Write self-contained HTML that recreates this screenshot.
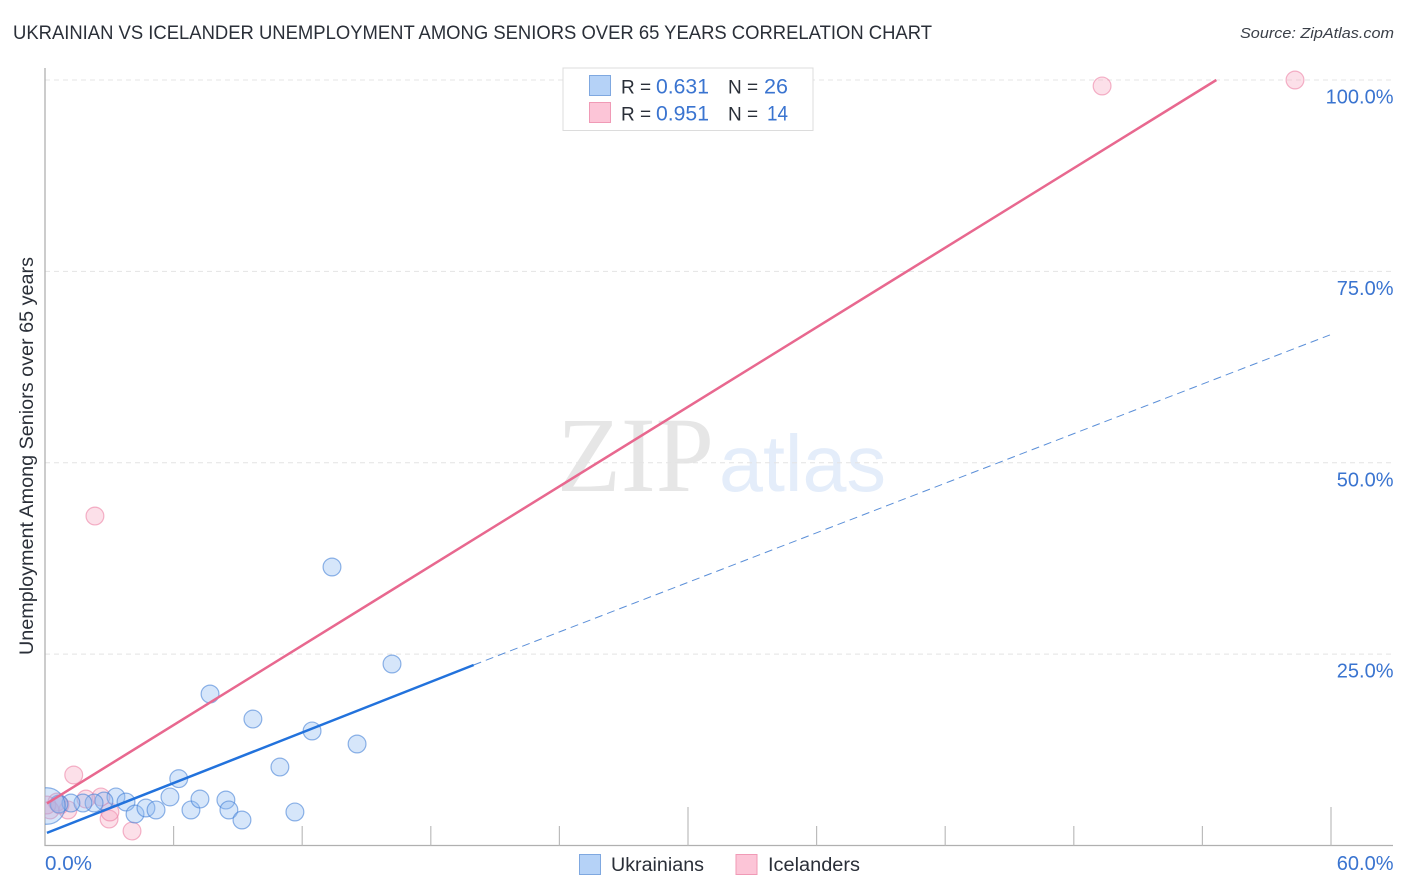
<!DOCTYPE html>
<html lang="en">
<head>
<meta charset="utf-8">
<title>Ukrainian vs Icelander Unemployment Among Seniors over 65 Years Correlation Chart</title>
<style>
html,body{margin:0;padding:0;background:#fff;width:1406px;height:892px;overflow:hidden}
svg{display:block;font-family:"Liberation Sans",sans-serif}
</style>
</head>
<body>
<svg id="chart" xmlns="http://www.w3.org/2000/svg" width="1406" height="892" viewBox="0 0 1406 892">
  <defs><clipPath id="plot-clip"><rect x="45" y="60" width="1348" height="785.5"/></clipPath></defs>
  <rect width="1406" height="892" fill="#fff"/>
  <text x="13" y="39" font-size="19" fill="#2a2f38" textLength="919" lengthAdjust="spacingAndGlyphs">UKRAINIAN VS ICELANDER UNEMPLOYMENT AMONG SENIORS OVER 65 YEARS CORRELATION CHART</text>
  <text x="1394" y="38" font-size="15" font-style="italic" fill="#3a3f48" text-anchor="end" textLength="154" lengthAdjust="spacingAndGlyphs">Source: ZipAtlas.com</text>
  <g>
    <text x="557" y="491" font-family="'Liberation Serif',serif" font-size="107" fill="#e6e6e6" textLength="157" lengthAdjust="spacingAndGlyphs">ZIP</text>
    <text x="719" y="491" font-size="80" fill="#e4edfa" textLength="167" lengthAdjust="spacingAndGlyphs">atlas</text>
  </g>
  <g id="grid"></g>
  <g id="axes"></g>
  <g id="marks" clip-path="url(#plot-clip)"></g>
  <text transform="translate(33,655) rotate(-90)" font-size="19" fill="#2a2f38" textLength="398" lengthAdjust="spacingAndGlyphs">Unemployment Among Seniors over 65 years</text>
  <g>
    <rect x="563" y="68" width="250" height="62.5" fill="#fff" stroke="#dcdcdc" stroke-width="1"/>
    <rect x="589.5" y="75.5" width="21" height="20" fill="#b5d2f7" stroke="#7fa8e0" stroke-width="1"/>
    <rect x="589.5" y="102.5" width="21" height="20" fill="#fcc5d7" stroke="#f09ab6" stroke-width="1"/>
    <text x="621" y="93.5" font-size="19" fill="#2a2f38">R =</text>
    <text x="656" y="93.5" font-size="21" fill="#3a74d0" textLength="53" lengthAdjust="spacingAndGlyphs">0.631</text>
    <text x="728" y="93.5" font-size="19" fill="#2a2f38">N =</text>
    <text x="764" y="93.5" font-size="21" fill="#3a74d0" textLength="24" lengthAdjust="spacingAndGlyphs">26</text>
    <text x="621" y="120.5" font-size="19" fill="#2a2f38">R =</text>
    <text x="656" y="120.5" font-size="21" fill="#3a74d0" textLength="53" lengthAdjust="spacingAndGlyphs">0.951</text>
    <text x="728" y="120.5" font-size="19" fill="#2a2f38">N =</text>
    <text x="767" y="120.5" font-size="21" fill="#3a74d0" textLength="21" lengthAdjust="spacingAndGlyphs">14</text>
  </g>
  <g>
    <rect x="579.5" y="854.5" width="21" height="20" fill="#b5d2f7" stroke="#7fa8e0" stroke-width="1"/>
    <text x="611" y="871" font-size="19" fill="#2a2f38" textLength="93" lengthAdjust="spacingAndGlyphs">Ukrainians</text>
    <rect x="736" y="854.5" width="21" height="20" fill="#fcc5d7" stroke="#f09ab6" stroke-width="1"/>
    <text x="768" y="871" font-size="19" fill="#2a2f38" textLength="92" lengthAdjust="spacingAndGlyphs">Icelanders</text>
  </g>
</svg>
<script>
const yTickValues = [25, 50, 75, 100];
const yTickLabels = ["25.0%", "50.0%", "75.0%", "100.0%"];
const xTickValues = [6, 12, 18, 24, 30, 36, 42, 48, 54, 60];
const xMajorTicks = [30, 60];
const xEndLabels = ["0.0%", "60.0%"];

const ukrainianX = [6.24, 10.96, 3.31, 3.78, 4.20, 4.71, 5.18, 5.83, 6.81, 7.23, 8.44, 8.58, 9.19, 11.66, 2.75, 2.29, 1.77, 1.21, 0.65, 0.09, 16.19, 13.39, 7.70, 9.70, 12.46, 14.56];
const ukrainianY = [8.73, 10.25, 6.34, 5.68, 4.11, 4.90, 4.64, 6.34, 4.64, 6.07, 5.94, 4.64, 3.33, 4.38, 5.81, 5.55, 5.55, 5.55, 5.42, 5.16, 23.71, 36.38, 19.79, 16.52, 14.96, 13.26];
const ukrainianWeight = [1, 1, 1, 1, 1, 1, 1, 1, 1, 1, 1, 1, 1, 1, 1, 1, 1, 1, 1, 4.2, 1, 1, 1, 1, 1, 1];

const icelanderX = [49.32, 58.32, 2.33, 1.34, 4.06, 2.99, 3.03, 2.61, 1.91, 1.07, 0.56, 0.23, 0.09, 0.70];
const icelanderY = [99.22, 100, 43.04, 9.21, 1.89, 3.46, 4.38, 6.34, 6.07, 4.64, 5.68, 4.64, 5.29, 5.29];

const ukrainianTrendX = [0.09, 20.0];
const ukrainianTrendY = [1.65, 23.58];
const ukrainianForecastX = [20.0, 59.95];
const ukrainianForecastY = [23.58, 66.7];
const icelanderTrendX = [0.09, 54.65];
const icelanderTrendY = [5.5, 100];

const NS = 'http://www.w3.org/2000/svg';
function xScale(v) { return 45 + v * (1286 / 60); }
function yScale(v) { return 845.5 - v * (765.5 / 100); }
function make(tag, attrs, parent) {
  const el = document.createElementNS(NS, tag);
  for (const k in attrs) el.setAttribute(k, attrs[k]);
  parent.appendChild(el);
  return el;
}
const grid = document.getElementById('grid');
const axes = document.getElementById('axes');
const marks = document.getElementById('marks');

yTickValues.forEach((v, i) => {
  const line = make('line', {x1: 45, x2: 1393, y1: yScale(v), y2: yScale(v), stroke: '#e4e4e4', 'stroke-width': 1, 'stroke-dasharray': '5 4'}, grid);
  
  
  const label = make('text', {x: 1393.5, y: yScale(v) + 23.5, 'font-size': 20, fill: '#3a74d0', 'text-anchor': 'end'}, axes);
  
  
  label.textContent = yTickLabels[i];
});

const yAxis = make('line', {x1: 45, x2: 45, y1: 68, y2: 846, stroke: '#b0b0b0', 'stroke-width': 1.3}, axes);


const xAxis = make('line', {x1: 44.5, x2: 1393, y1: 845.5, y2: 845.5, stroke: '#b0b0b0', 'stroke-width': 1.3}, axes);



xTickValues.forEach((v) => {
  const top = xMajorTicks.includes(v) ? 807 : 826;
  const tick = make('line', {x1: xScale(v), x2: xScale(v), y1: top, y2: 845.5, stroke: '#bcbcbc', 'stroke-width': 1.2}, axes);
  
  
});

const xLabelLeft = make('text', {x: 45, y: 870, 'font-size': 20, fill: '#3a74d0', textLength: 47, lengthAdjust: 'spacingAndGlyphs'}, axes);


xLabelLeft.textContent = xEndLabels[0];
const xLabelRight = make('text', {x: 1393.5, y: 870, 'font-size': 20, fill: '#3a74d0', 'text-anchor': 'end'}, axes);


xLabelRight.textContent = xEndLabels[1];

icelanderX.forEach((v, i) => {
  const c = make('circle', {cx: xScale(v), cy: yScale(icelanderY[i]), r: 8.9, fill: 'rgba(248,170,195,0.36)', stroke: 'rgba(236,130,165,0.6)', 'stroke-width': 1.2}, marks);
  
  
});
ukrainianX.forEach((v, i) => {
  const c = make('circle', {cx: xScale(v), cy: yScale(ukrainianY[i]), r: 8.9 * Math.sqrt(ukrainianWeight[i]), fill: 'rgba(140,185,240,0.36)', stroke: 'rgba(70,130,215,0.6)', 'stroke-width': 1.2}, marks);
  
  
});

const forecast = make('line', {x1: xScale(ukrainianForecastX[0]), y1: yScale(ukrainianForecastY[0]), x2: xScale(ukrainianForecastX[1]), y2: yScale(ukrainianForecastY[1]), stroke: '#5b8fd8', 'stroke-width': 1, 'stroke-dasharray': '8 5'}, marks);


const blueTrend = make('line', {x1: xScale(ukrainianTrendX[0]), y1: yScale(ukrainianTrendY[0]), x2: xScale(ukrainianTrendX[1]), y2: yScale(ukrainianTrendY[1]), stroke: '#2272dc', 'stroke-width': 2.5}, marks);


const pinkTrend = make('line', {x1: xScale(icelanderTrendX[0]), y1: yScale(icelanderTrendY[0]), x2: xScale(icelanderTrendX[1]), y2: yScale(icelanderTrendY[1]), stroke: '#e8688f', 'stroke-width': 2.5}, marks);


</script>
</body>
</html>
